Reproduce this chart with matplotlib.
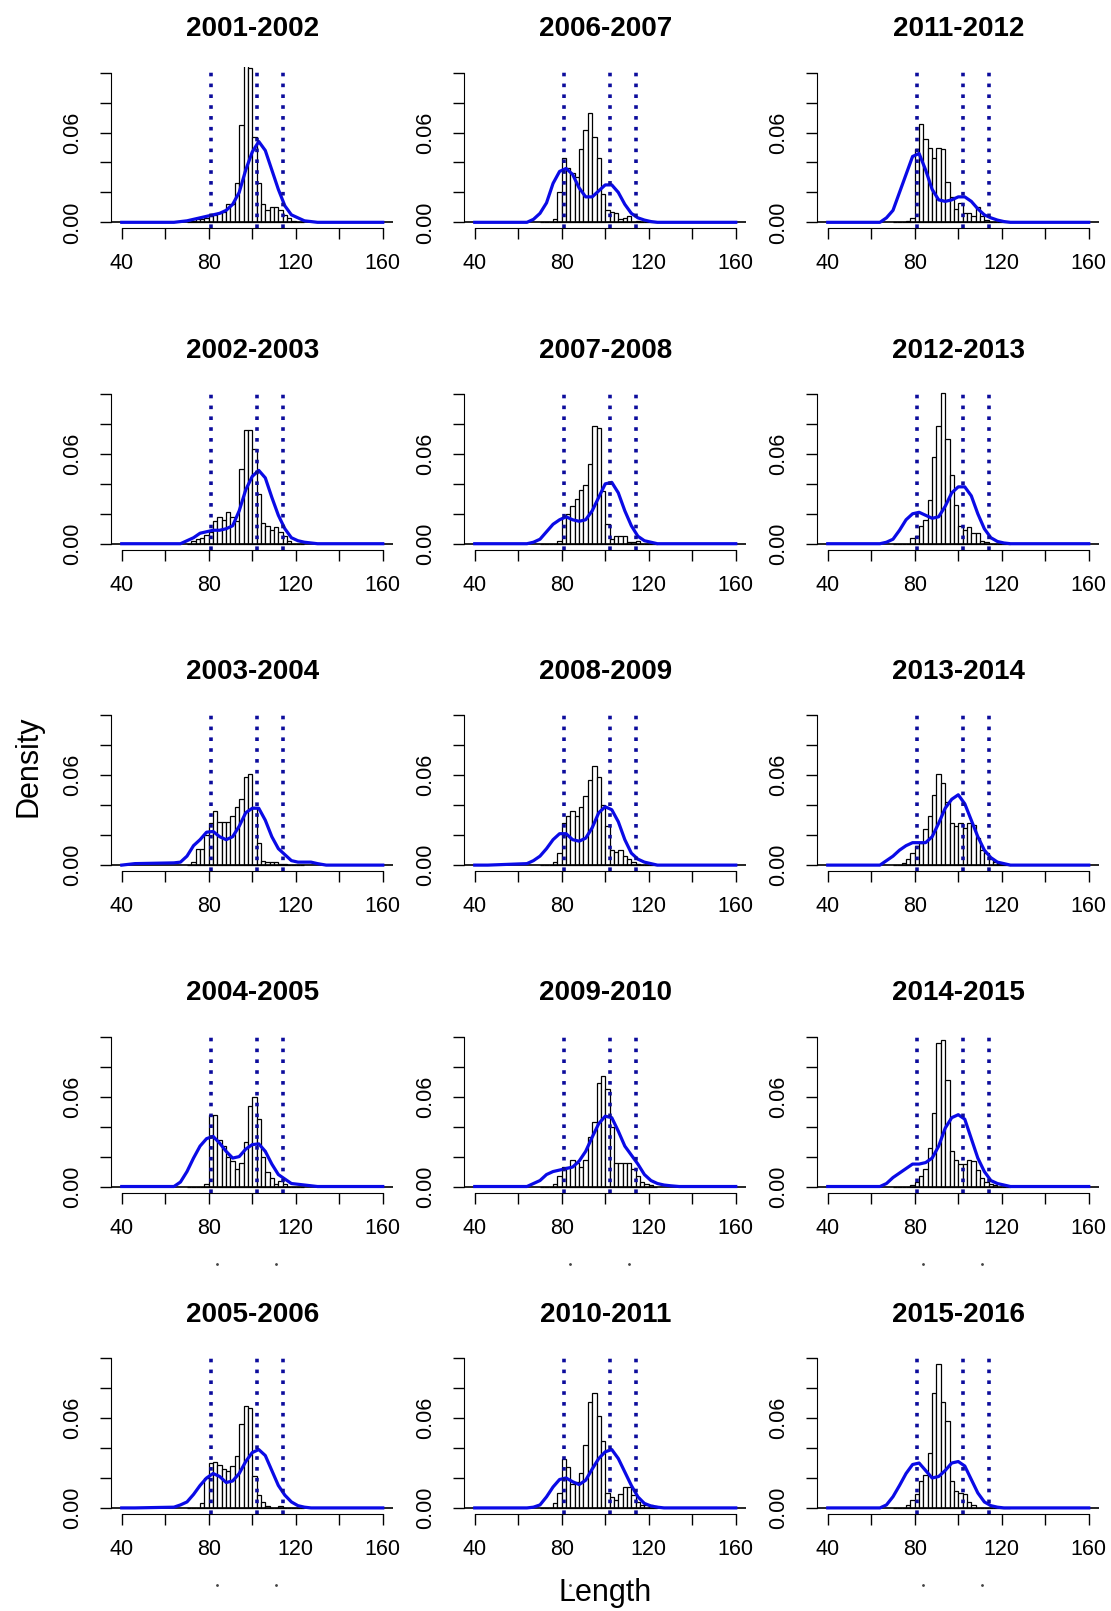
import matplotlib.pyplot as plt

plt.rcParams['font.family'] = ['Liberation Sans', 'DejaVu Sans']

# seasons, column by column
seasons = ["2001-2002", "2002-2003", "2003-2004", "2004-2005", "2005-2006",
           "2006-2007", "2007-2008", "2008-2009", "2009-2010", "2010-2011",
           "2011-2012", "2012-2013", "2013-2014", "2014-2015", "2015-2016"]

# histogram bin edges (length classes, width 2)
bin_edges = [70, 72, 74, 76, 78, 80, 82, 84, 86, 88, 90, 92, 94, 96, 98, 100,
             102, 104, 106, 108, 110, 112, 114, 116, 118, 120, 122, 124]

# x grid where the density curve was read
dens_x = [40, 46, 64, 67, 70, 73, 76, 79, 82, 85, 88, 91, 94, 97, 100, 103,
          106, 109, 112, 115, 118, 121, 124, 127, 130, 134, 160]

# reference lengths (dotted lines)
ref_lengths = [81, 102, 114]

# histogram densities per season
h_2001 = [0, 0.001, 0.002, 0.002, 0.003, 0.004, 0.005, 0.006, 0.007, 0.012, 0.012, 0.026, 0.065, 0.11,
          0.103, 0.057, 0.026, 0.012, 0.008, 0.010, 0.010, 0.008, 0.005, 0.003, 0.001, 0, 0]
h_2002 = [0, 0.002, 0.003, 0.004, 0.006, 0.008, 0.015, 0.018, 0.016, 0.021, 0.018, 0.015, 0.050, 0.076,
          0.076, 0.063, 0.033, 0.014, 0.012, 0.009, 0.011, 0.008, 0.005, 0.002, 0, 0, 0]
h_2003 = [0, 0.002, 0.011, 0.011, 0.020, 0.028, 0.036, 0.029, 0.029, 0.029, 0.033, 0.039, 0.044, 0.059,
          0.061, 0.039, 0.015, 0.003, 0.002, 0.002, 0.002, 0.001, 0.001, 0, 0, 0, 0]
h_2004 = [0, 0, 0, 0, 0.002, 0.048, 0.048, 0.031, 0.027, 0.020, 0.017, 0.012, 0.016, 0.030,
          0.054, 0.060, 0.045, 0.020, 0.010, 0.006, 0.002, 0.004, 0.002, 0, 0, 0, 0]
h_2005 = [0, 0, 0, 0.0036, 0.020, 0.030, 0.031, 0.0285, 0.026, 0.025, 0.028, 0.035, 0.056, 0.068,
          0.0665, 0.021, 0.0085, 0.004, 0.0013, 0, 0, 0.001, 0, 0, 0, 0, 0]
h_2006 = [0, 0, 0, 0.002, 0.020, 0.043, 0.036, 0.033, 0.030, 0.049, 0.062, 0.073, 0.057, 0.043,
          0.019, 0.008, 0.007, 0.006, 0.002, 0.003, 0.004, 0, 0.001, 0, 0, 0, 0]
h_2007 = [0, 0, 0, 0, 0.002, 0.018, 0.020, 0.025, 0.030, 0.036, 0.039, 0.053, 0.079, 0.077,
          0.035, 0.013, 0.003, 0.005, 0.005, 0.005, 0.001, 0.001, 0.0015, 0, 0, 0, 0]
h_2008 = [0, 0, 0, 0.002, 0.008, 0.028, 0.033, 0.036, 0.033, 0.039, 0.046, 0.057, 0.066, 0.059,
          0.040, 0.026, 0.010, 0.009, 0.010, 0.006, 0.004, 0.002, 0.001, 0, 0, 0, 0]
h_2009 = [0, 0, 0, 0.0015, 0.007, 0.013, 0.013, 0.018, 0.016, 0.013, 0.018, 0.033, 0.043, 0.069,
          0.074, 0.065, 0.040, 0.016, 0.016, 0.016, 0.016, 0.012, 0.007, 0.003, 0.0015, 0.001, 0]
h_2010 = [0, 0, 0, 0.003, 0.010, 0.0325, 0.0275, 0.016, 0.017, 0.023, 0.042, 0.071, 0.0765, 0.0615,
          0.045, 0.010, 0.007, 0.005, 0.009, 0.014, 0.014, 0.0085, 0.004, 0.002, 0.002, 0.002, 0.001]
h_2011 = [0, 0, 0, 0.001, 0.003, 0.049, 0.066, 0.056, 0.050, 0.043, 0.050, 0.049, 0.027, 0.017,
          0.009, 0.013, 0.006, 0.006, 0.004, 0.010, 0.004, 0.0015, 0, 0, 0, 0, 0]
h_2012 = [0, 0, 0, 0, 0.004, 0.005, 0.012, 0.016, 0.029, 0.058, 0.079, 0.101, 0.070, 0.046,
          0.026, 0.012, 0.009, 0.011, 0.007, 0.007, 0.002, 0.001, 0, 0, 0, 0, 0]
h_2013 = [0, 0, 0.0015, 0.004, 0.008, 0.013, 0.015, 0.024, 0.033, 0.047, 0.061, 0.055, 0.042, 0.028,
          0.026, 0.028, 0.025, 0.028, 0.027, 0.018, 0.010, 0.008, 0.004, 0.002, 0.001, 0, 0]
h_2014 = [0, 0, 0, 0, 0.001, 0.003, 0.007, 0.012, 0.026, 0.049, 0.096, 0.098, 0.071, 0.024,
          0.018, 0.015, 0.015, 0.018, 0.017, 0.011, 0.006, 0.003, 0.0015, 0.001, 0, 0, 0]
h_2015 = [0, 0, 0, 0.002, 0.005, 0.009, 0.018, 0.022, 0.037, 0.077, 0.096, 0.071, 0.058, 0.018,
          0.011, 0.010, 0.009, 0.004, 0.002, 0, 0, 0, 0, 0, 0, 0, 0]

# kernel density curves per season (read at dens_x)
d_2001 = [0, 0, 0, 0.0005, 0.001, 0.002, 0.003, 0.004, 0.005, 0.006, 0.008, 0.012, 0.020, 0.035,
          0.047, 0.054, 0.048, 0.035, 0.022, 0.011, 0.005, 0.003, 0.001, 0.0005, 0, 0, 0]
d_2002 = [0, 0, 0, 0, 0.002, 0.004, 0.007, 0.008, 0.009, 0.009, 0.010, 0.012, 0.022, 0.036,
          0.045, 0.049, 0.044, 0.031, 0.019, 0.010, 0.004, 0.002, 0.001, 0.0005, 0, 0, 0]
d_2003 = [0, 0.001, 0.0015, 0.002, 0.006, 0.013, 0.017, 0.022, 0.0225, 0.019, 0.017, 0.019, 0.026, 0.035,
          0.038, 0.038, 0.030, 0.019, 0.011, 0.007, 0.003, 0.002, 0.002, 0.002, 0.001, 0, 0]
d_2004 = [0, 0, 0, 0.003, 0.010, 0.019, 0.027, 0.032, 0.0335, 0.029, 0.0235, 0.019, 0.020, 0.025,
          0.028, 0.0285, 0.0235, 0.015, 0.008, 0.005, 0.002, 0.0015, 0.001, 0.0005, 0, 0, 0]
d_2005 = [0, 0, 0.0005, 0.002, 0.004, 0.009, 0.015, 0.020, 0.023, 0.021, 0.017, 0.018, 0.023, 0.031,
          0.037, 0.039, 0.035, 0.025, 0.015, 0.0085, 0.004, 0.0015, 0.0005, 0, 0, 0, 0]
d_2006 = [0, 0, 0, 0.002, 0.006, 0.013, 0.026, 0.034, 0.036, 0.032, 0.023, 0.017, 0.017, 0.021,
          0.025, 0.025, 0.020, 0.012, 0.006, 0.003, 0.0015, 0.0005, 0, 0, 0, 0, 0]
d_2007 = [0, 0, 0, 0.001, 0.003, 0.008, 0.013, 0.016, 0.018, 0.016, 0.015, 0.016, 0.022, 0.031,
          0.040, 0.041, 0.034, 0.022, 0.012, 0.005, 0.002, 0.001, 0, 0, 0, 0, 0]
d_2008 = [0, 0, 0.001, 0.003, 0.006, 0.011, 0.017, 0.021, 0.021, 0.017, 0.016, 0.018, 0.025, 0.035,
          0.039, 0.037, 0.029, 0.017, 0.008, 0.004, 0.002, 0.001, 0, 0, 0, 0, 0]
d_2009 = [0, 0, 0, 0.002, 0.004, 0.008, 0.010, 0.011, 0.012, 0.013, 0.017, 0.0235, 0.033, 0.042,
          0.047, 0.046, 0.037, 0.027, 0.021, 0.015, 0.008, 0.004, 0.002, 0.001, 0.0005, 0, 0]
d_2010 = [0, 0, 0, 0.0005, 0.002, 0.0074, 0.014, 0.019, 0.020, 0.0175, 0.0156, 0.0185, 0.026, 0.033,
          0.0375, 0.039, 0.033, 0.024, 0.015, 0.0074, 0.003, 0.0013, 0.0005, 0, 0, 0, 0]
d_2011 = [0, 0, 0, 0.003, 0.008, 0.020, 0.032, 0.044, 0.046, 0.035, 0.022, 0.015, 0.014, 0.015,
          0.017, 0.017, 0.014, 0.009, 0.005, 0.003, 0.0015, 0.0005, 0, 0, 0, 0, 0]
d_2012 = [0, 0, 0, 0.001, 0.003, 0.009, 0.016, 0.020, 0.021, 0.019, 0.017, 0.018, 0.025, 0.034,
          0.038, 0.038, 0.032, 0.020, 0.010, 0.004, 0.0015, 0.0005, 0, 0, 0, 0, 0]
d_2013 = [0, 0, 0, 0.003, 0.006, 0.010, 0.013, 0.015, 0.015, 0.015, 0.019, 0.028, 0.038, 0.044,
          0.047, 0.041, 0.030, 0.019, 0.010, 0.005, 0.002, 0.001, 0, 0, 0, 0, 0]
d_2014 = [0, 0, 0, 0.002, 0.006, 0.009, 0.012, 0.015, 0.015, 0.016, 0.019, 0.027, 0.039, 0.046,
          0.048, 0.045, 0.032, 0.019, 0.010, 0.004, 0.002, 0.001, 0, 0, 0, 0, 0]
d_2015 = [0, 0, 0, 0.002, 0.0075, 0.015, 0.023, 0.029, 0.030, 0.025, 0.020, 0.021, 0.025, 0.030,
          0.031, 0.028, 0.019, 0.010, 0.004, 0.0015, 0.0005, 0, 0, 0, 0, 0, 0]

hists = [h_2001, h_2002, h_2003, h_2004, h_2005, h_2006, h_2007, h_2008,
         h_2009, h_2010, h_2011, h_2012, h_2013, h_2014, h_2015]
denss = [d_2001, d_2002, d_2003, d_2004, d_2005, d_2006, d_2007, d_2008,
         d_2009, d_2010, d_2011, d_2012, d_2013, d_2014, d_2015]

W, H = 1111, 1611
fig = plt.figure(figsize=(W / 100, H / 100), dpi=100)

for i, season in enumerate(seasons):
    col, row = divmod(i, 5)
    left = 111.3 + 353 * col
    y0 = 222.3 + 321.4 * row
    ax = fig.add_axes([left / W, 1 - (y0 + 6) / H, 281.9 / W, 161.6 / H])

    ax.bar(bin_edges[:-1], hists[i], width=2, align='edge', color='white',
           edgecolor='black', linewidth=0.9, zorder=1)
    ax.axhline(0, color='black', linewidth=1.2, zorder=2)
    ax.plot(dens_x, denss[i], color='#0a0ae6', linewidth=2.3, zorder=3)
    for v in ref_lengths:
        ax.axvline(v, color='#0c0c9c', linewidth=2.6, linestyle=(0, (1, 2)), zorder=4)

    ax.set_xlim(35.2, 164.8)
    ax.set_ylim(-0.004, 0.104)
    for s in ['top', 'right']:
        ax.spines[s].set_visible(False)
    ax.spines['left'].set_bounds(0, 0.1)
    ax.spines['bottom'].set_bounds(40, 160)
    ax.set_xticks([40, 60, 80, 100, 120, 140, 160])
    ax.set_xticklabels(['40', '', '80', '', '120', '', '160'])
    ax.set_yticks([0, 0.02, 0.04, 0.06, 0.08, 0.10])
    ax.set_yticklabels(['0.00', '', '', '0.06', '', ''])
    ax.tick_params(direction='out', length=8, width=1, labelsize=15.5, colors='black')
    ax.tick_params(axis='x', pad=10)
    ax.tick_params(axis='y', pad=12, labelrotation=90)
    for lab in ax.get_yticklabels():
        lab.set_va('center')
    ax.set_title(season, fontsize=20, fontweight='bold', pad=22)

    # stray dots under the lower panels
    if row >= 3:
        ax.plot([0.374, 0.584], [-0.44, -0.44], linestyle='none', marker='.',
                markersize=2, color='#444444', transform=ax.transAxes, clip_on=False)

fig.text(28 / W, 1 - 766 / H, 'Density', rotation=90, fontsize=22, ha='center', va='center')
fig.text(605 / W, 1 - 1593 / H, 'Length', fontsize=22, ha='center', va='center')

fig.savefig('out.png', dpi=100)
